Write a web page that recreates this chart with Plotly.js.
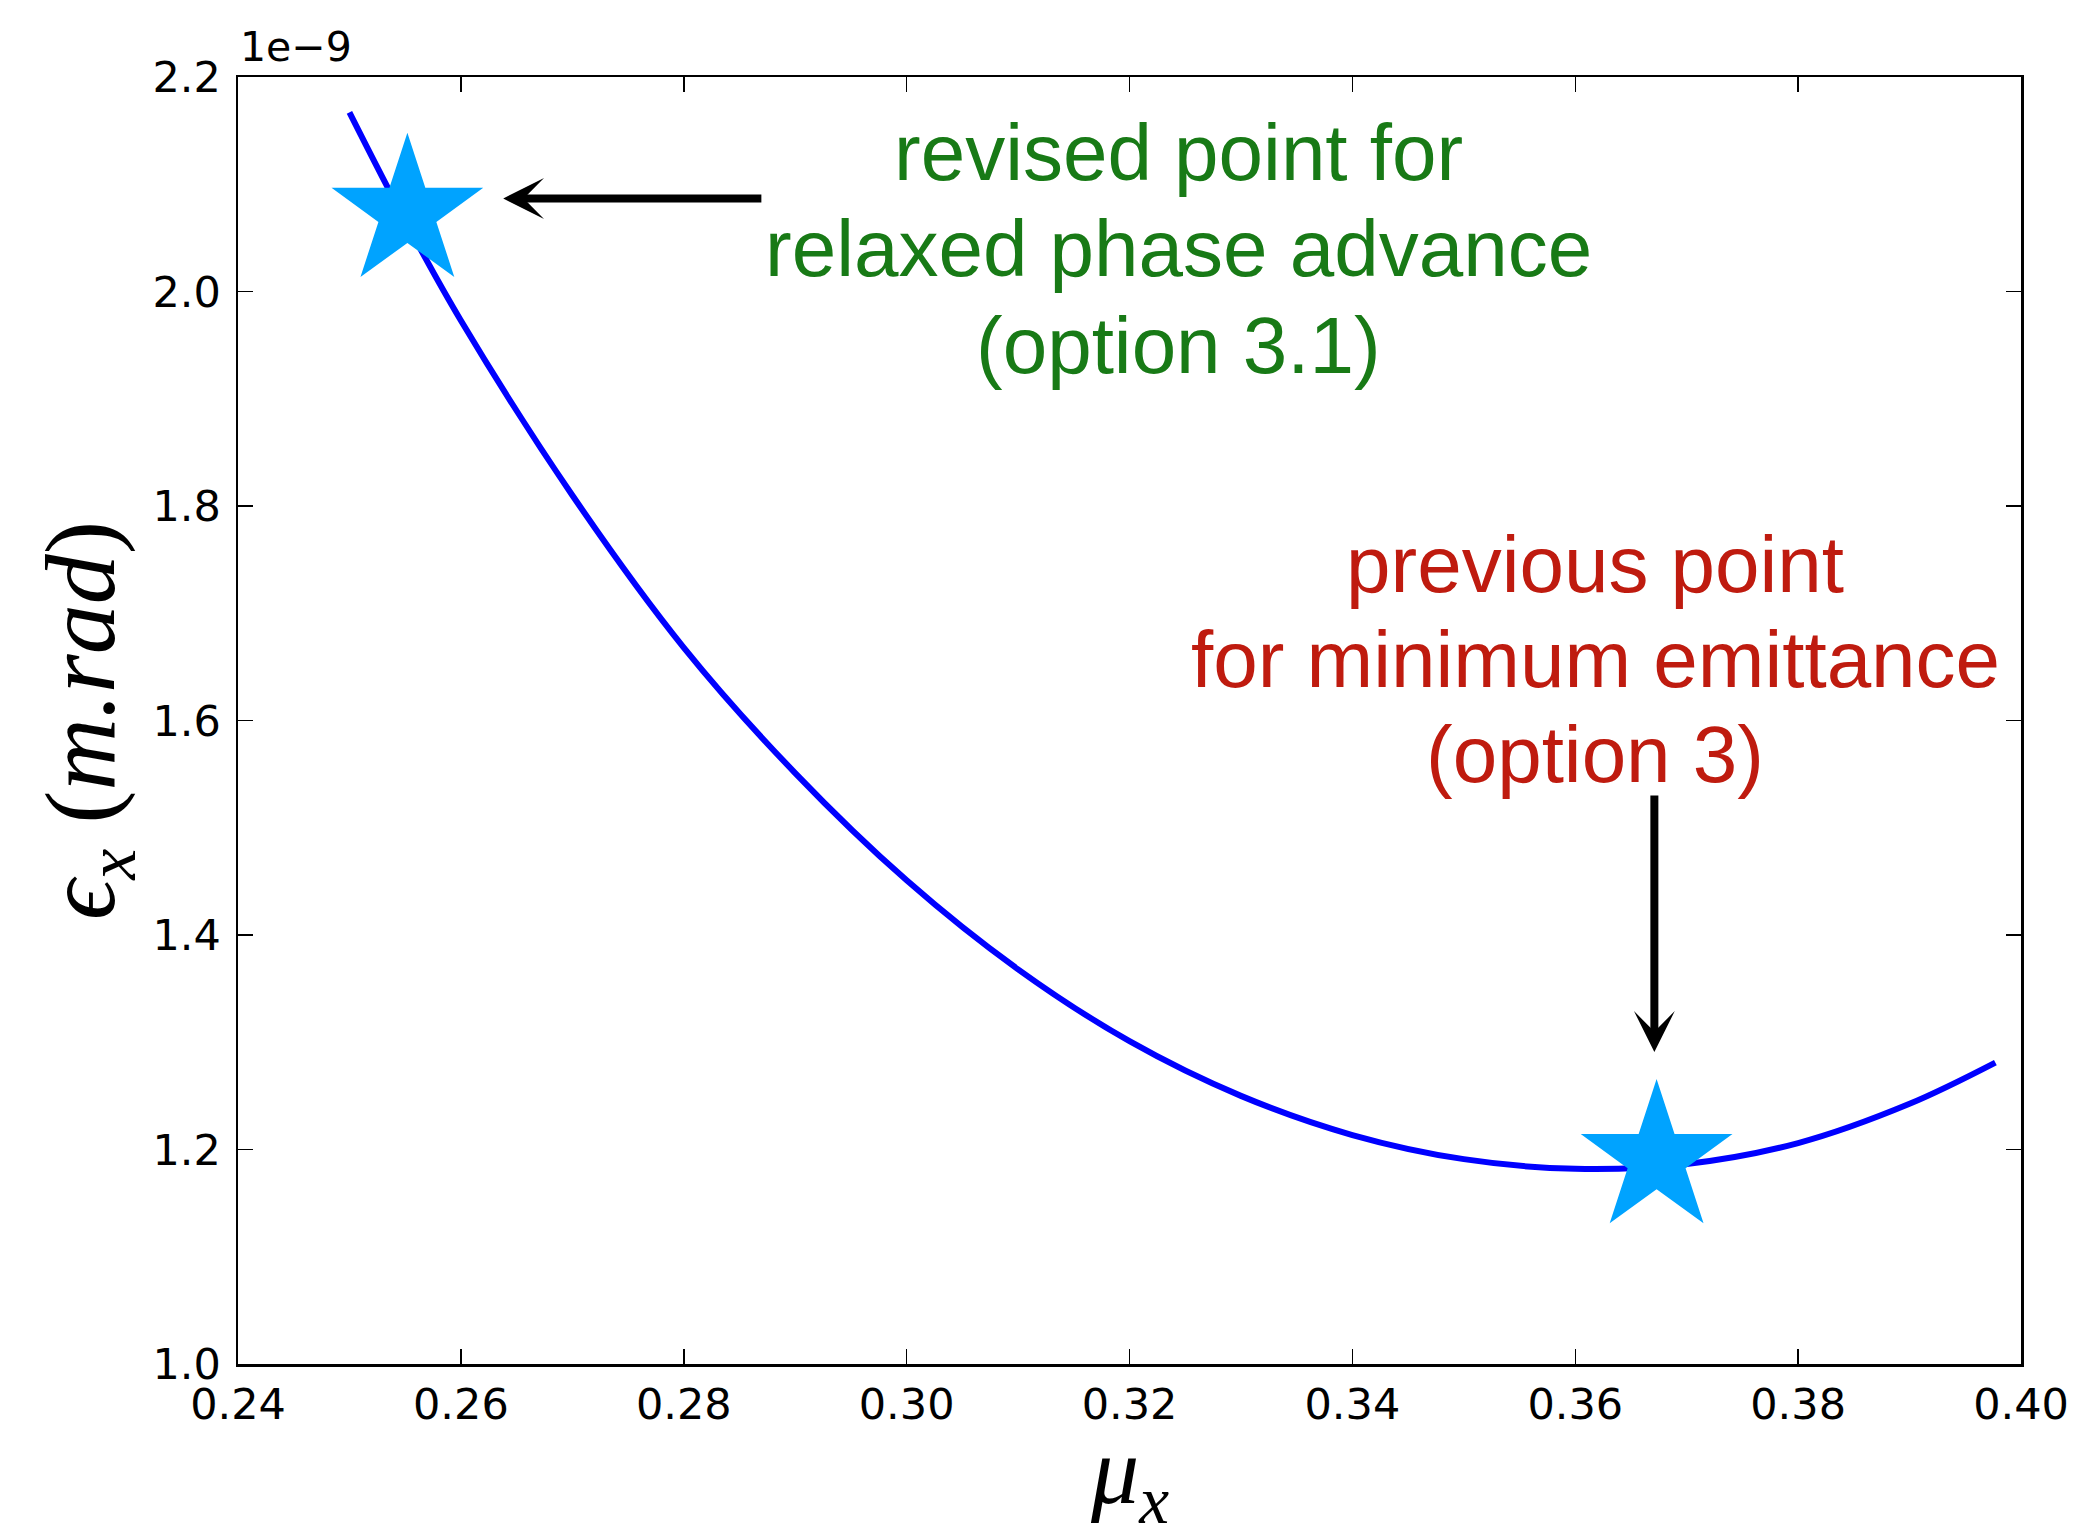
<!DOCTYPE html>
<html>
<head>
<meta charset="utf-8">
<script src="https://cdn.plot.ly/plotly-3.0.1.min.js"></script>
<style>html,body{margin:0;padding:0;background:#fff;}#chart{width:2075px;height:1527px;}</style>
</head>
<body>
<div id="chart"></div>
<script>
// Horizontal phase advance per cell (mu_x)
const mu_x = [0.250, 0.255, 0.260, 0.270, 0.280, 0.290, 0.300, 0.310, 0.320, 0.330, 0.340, 0.350, 0.360, 0.370, 0.380, 0.390, 0.3977];
// Horizontal emittance, in units of 1e-9 m.rad
const eps_x = [2.167, 2.066, 1.973, 1.810, 1.668, 1.551, 1.451, 1.368, 1.301, 1.250, 1.2135, 1.191, 1.182, 1.1865, 1.206, 1.2426, 1.281];

// Highlighted working points: [revised (option 3.1), previous (option 3)]
const star_mu = [0.2552, 0.3673];
const star_eps = [2.0737, 1.1914];

// Tick labels
const xTickVals = [0.24, 0.26, 0.28, 0.30, 0.32, 0.34, 0.36, 0.38, 0.40];
const xTickText = ["0.24", "0.26", "0.28", "0.30", "0.32", "0.34", "0.36", "0.38", "0.40"];
const yTickVals = [1.0, 1.2, 1.4, 1.6, 1.8, 2.0, 2.2];
const yTickText = ["1.0", "1.2", "1.4", "1.6", "1.8", "2.0", "2.2"];

// Texts
const greenLines = ["revised point for", "relaxed phase advance", "(option 3.1)"];
const redLines = ["previous point", "for minimum emittance", "(option 3)"];
const exponentText = "1e\u22129";
const xTitle = "<i>\u03bc</i><sub><i>x</i></sub>";
const yTitle = "<i>\u03f5</i><sub><i>x</i></sub> (<i>m.rad</i>)";

const GREEN = "#187a16";
const RED = "#bf1b0f";
const textFont = "Liberation Sans, Arial, sans-serif";
const mathFont = "Liberation Serif, DejaVu Serif, serif";
const textSize = 80;

const greenY = [2.1300, 2.0400, 1.9500];
const redY = [1.7450, 1.6570, 1.5680];

const annotations = [];
greenLines.forEach((t, i) => annotations.push({
  text: t, x: 0.3244, y: greenY[i], xref: "x", yref: "y", showarrow: false,
  xanchor: "center", yanchor: "middle", font: {family: textFont, size: textSize, color: GREEN}
}));
redLines.forEach((t, i) => annotations.push({
  text: t, x: 0.3618, y: redY[i], xref: "x", yref: "y", showarrow: false,
  xanchor: "center", yanchor: "middle", font: {family: textFont, size: textSize, color: RED}
}));
// arrows
annotations.push({
  text: "", x: 0.2638, y: 2.0867, ax: 0.2871, ay: 2.0867, xref: "x", yref: "y", axref: "x", ayref: "y",
  showarrow: true, arrowhead: 3, arrowsize: 0.85, arrowwidth: 8, arrowcolor: "#000"
});
annotations.push({
  text: "", x: 0.3671, y: 1.291, ax: 0.3671, ay: 1.5315, xref: "x", yref: "y", axref: "x", ayref: "y",
  showarrow: true, arrowhead: 3, arrowsize: 0.85, arrowwidth: 8, arrowcolor: "#000"
});
// offset text
annotations.push({
  text: exponentText, x: 0, y: 1, xref: "paper", yref: "paper", showarrow: false,
  xanchor: "left", yanchor: "bottom", yshift: 4,
  font: {family: "DejaVu Sans", size: 41, color: "#000"}
});
// x-axis title (as annotation so it may sit low in the margin like the original)
annotations.push({
  text: xTitle, x: 0.5, y: -0.088, xref: "paper", yref: "paper", showarrow: false,
  xanchor: "center", yanchor: "middle",
  font: {family: mathFont, size: 96, color: "#000"}
});

const traces = [
  {x: mu_x, y: eps_x, type: "scatter", mode: "lines",
   line: {color: "#0000ff", width: 6, shape: "spline", smoothing: 1}, hoverinfo: "x+y"},
  {x: star_mu, y: star_eps, type: "scatter", mode: "markers",
   marker: {symbol: "star", size: 114, color: "#00a3ff", line: {width: 0}}}
];

const axisCommon = {
  showline: true, mirror: "ticks", linecolor: "#000", linewidth: 2.5,
  ticks: "inside", ticklen: 15, tickwidth: 1.5, tickcolor: "#000",
  showgrid: false, zeroline: false,
  tickfont: {family: "DejaVu Sans", size: 43, color: "#000"},
  tickmode: "array"
};

const layout = {
  width: 2075, height: 1527,
  margin: {l: 238, r: 54, t: 77, b: 163},
  paper_bgcolor: "#fff", plot_bgcolor: "#fff",
  showlegend: false,
  xaxis: Object.assign({}, axisCommon, {
    range: [0.24, 0.40], tickvals: xTickVals, ticktext: xTickText,
    ticklabelstandoff: 1
  }),
  yaxis: Object.assign({}, axisCommon, {
    range: [1.0, 2.2], tickvals: yTickVals, ticktext: yTickText,
    ticklabelstandoff: 6,
    title: {text: yTitle, standoff: 5,
            font: {family: mathFont, size: 100, color: "#000"}}
  }),
  annotations: annotations
};

Plotly.newPlot("chart", traces, layout, {displayModeBar: false, staticPlot: true});
</script>
</body>
</html>
